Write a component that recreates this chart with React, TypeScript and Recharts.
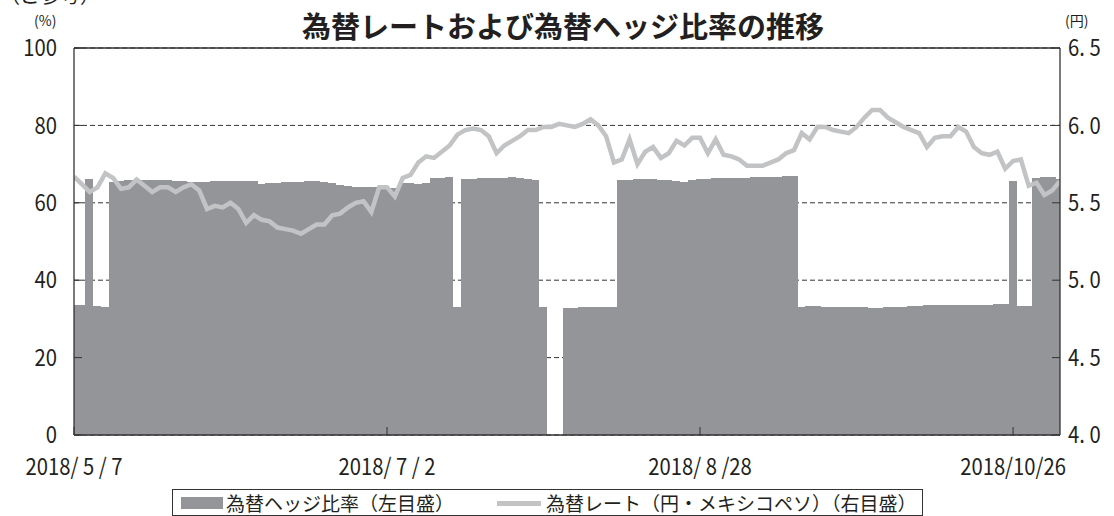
import React from "react";
import {
  ComposedChart,
  Bar,
  Line,
  XAxis,
  YAxis,
  CartesianGrid,
  ReferenceLine,
} from "recharts";

// 為替ヘッジ比率 (%), one value per business day from 2018/5/7
const hedgeRatio = [
  33.6, 33.7, 66.1, 33.3, 33.2, 65.5, 65.7, 65.8, 65.9, 65.9,
  65.9, 65.8, 65.8, 65.7, 65.6, 65.5, 65.5, 65.5, 65.6, 65.6,
  65.6, 65.6, 65.7, 65.7, 64.9, 65.0, 65.2, 65.3, 65.4, 65.5,
  65.6, 65.6, 65.4, 65.0, 64.6, 64.3, 64.2, 64.1, 64.0, 64.0,
  63.9, 63.9, 65.0, 65.0, 64.9, 65.0, 66.5, 66.5, 66.6, 33.0,
  66.1, 66.2, 66.3, 66.3, 66.4, 66.5, 66.6, 66.3, 66.1, 65.9,
  33.0, 0, 0, 32.8, 32.9, 33.0, 33.1, 33.1, 33.2, 33.2,
  65.9, 66.0, 66.1, 66.1, 66.1, 66.0, 65.9, 65.6, 65.5, 66.0,
  66.1, 66.2, 66.3, 66.3, 66.4, 66.4, 66.5, 66.6, 66.6, 66.7,
  66.7, 66.8, 66.9, 33.2, 33.3, 33.3, 33.2, 33.2, 33.1, 33.0,
  33.0, 33.0, 32.9, 32.9, 33.0, 33.1, 33.2, 33.3, 33.4, 33.5,
  33.5, 33.5, 33.5, 33.5, 33.5, 33.6, 33.6, 33.7, 33.8, 33.9,
  65.6, 33.3, 33.3, 66.3, 66.7, 66.6, 66.1,
];

// 為替レート (円・メキシコペソ)
const fxRate = [
  5.67, 5.62, 5.57, 5.60, 5.69, 5.66, 5.59, 5.60, 5.65, 5.61,
  5.57, 5.60, 5.60, 5.57, 5.60, 5.62, 5.58, 5.46, 5.48, 5.47,
  5.50, 5.46, 5.37, 5.42, 5.39, 5.38, 5.34, 5.33, 5.32, 5.30,
  5.33, 5.36, 5.36, 5.42, 5.43, 5.47, 5.50, 5.51, 5.44, 5.60,
  5.60, 5.54, 5.66, 5.68, 5.76, 5.80, 5.79, 5.83, 5.87, 5.94,
  5.97, 5.98, 5.97, 5.93, 5.82, 5.87, 5.90, 5.93, 5.97, 5.97,
  5.99, 5.99, 6.01, 6.00, 5.99, 6.01, 6.04, 6.00, 5.93, 5.76,
  5.78, 5.91, 5.75, 5.83, 5.86, 5.79, 5.82, 5.90, 5.87, 5.92,
  5.92, 5.82, 5.91, 5.81, 5.80, 5.78, 5.74, 5.74, 5.74, 5.76,
  5.78, 5.82, 5.84, 5.95, 5.91, 5.99, 5.99, 5.97, 5.96, 5.95,
  5.99, 6.05, 6.10, 6.10, 6.05, 6.02, 5.99, 5.97, 5.95, 5.86,
  5.92, 5.93, 5.93, 5.99, 5.96, 5.86, 5.82, 5.81, 5.83, 5.72,
  5.77, 5.78, 5.61, 5.63, 5.55, 5.58, 5.64,
];

const xTickIdx = [0, 40, 80, 120];
const xTickLabels = ["2018/ 5 / 7", "2018/ 7 / 2", "2018/ 8 /28", "2018/10/26"];
const leftTicks = [0, 20, 40, 60, 80, 100];
const rightTicks = [4.0, 4.5, 5.0, 5.5, 6.0, 6.5];

const rows = hedgeRatio.map((h, i) => ({ i, hedge: h, rate: fxRate[i] }));

const JP = '"Noto Sans CJK JP", "Noto Sans", sans-serif';
const INK = "#231f20";
const AXIS = "#333";
const BAR = "#939598";
const LINE = "#c2c3c5";

// condensed-looking tick text (original uses a narrow gothic face)
function NarrowTick(props: any) {
  const { x, y, payload, textAnchor, fmt } = props;
  return (
    <g transform={`translate(${x},${y}) scale(0.88,1)`}>
      <text x={0} y={0} dy="0.36em" textAnchor={textAnchor} fill={INK} fontSize={23} fontFamily={JP}>
        {fmt(payload.value)}
      </text>
    </g>
  );
}

// bars touch each other; widen a hair and snap to pixels so no seams show
function SolidBar(props: any) {
  const { x, y, width, height } = props;
  if (!height || height <= 0) return null;
  return (
    <rect x={x - 0.5} y={y} width={width + 1} height={height} fill={BAR} shapeRendering="crispEdges" />
  );
}

const fmtLeft = (v: number) => String(v);
const fmtRight = (v: number) => v.toFixed(1).replace(".", ". ");
const fmtX = (v: number) => xTickLabels[xTickIdx.indexOf(v)] ?? "";

export default function App() {
  return (
    <div
      style={{
        position: "absolute",
        left: 0,
        top: 0,
        width: 1114,
        height: 516,
        background: "#fff",
        overflow: "hidden",
        fontFamily: JP,
        color: INK,
      }}
    >
      <ComposedChart
        width={1114}
        height={516}
        data={rows}
        margin={{ top: 48, right: 0, bottom: 41, left: 0 }}
        barCategoryGap={0}
        barGap={0}
      >
        <CartesianGrid vertical={false} stroke={AXIS} strokeDasharray="5 3" />
        <XAxis
          dataKey="i"
          type="number"
          domain={[0, 126]}
          allowDataOverflow
          ticks={xTickIdx}
          interval={0}
          height={40}
          tickSize={-8}
          tickMargin={40}
          axisLine={{ stroke: AXIS, strokeWidth: 1.3 }}
          tickLine={{ stroke: AXIS }}
          tick={<NarrowTick fmt={fmtX} />}
        />
        <YAxis
          domain={[0, 100]}
          ticks={leftTicks}
          interval={0}
          width={74}
          tickSize={-8}
          tickMargin={25}
          axisLine={{ stroke: AXIS, strokeWidth: 1.3 }}
          tickLine={{ stroke: AXIS }}
          tick={<NarrowTick fmt={fmtLeft} />}
        />
        <YAxis
          yAxisId="r"
          orientation="right"
          domain={[4, 6.5]}
          ticks={rightTicks}
          interval={0}
          width={54}
          tickSize={-8}
          tickMargin={16}
          axisLine={{ stroke: AXIS, strokeWidth: 1.3 }}
          tickLine={{ stroke: AXIS }}
          tick={<NarrowTick fmt={fmtRight} />}
        />
        <Bar
          dataKey="hedge"
          fill={BAR}
          barSize={8}
          shape={<SolidBar />}
          isAnimationActive={false}
        />
        <Line
          yAxisId="r"
          type="linear"
          dataKey="rate"
          stroke={LINE}
          strokeWidth={4.5}
          dot={false}
          activeDot={false}
          isAnimationActive={false}
        />
        <ReferenceLine y={100} stroke={AXIS} strokeWidth={1.3} />
      </ComposedChart>

      <div style={{ position: "absolute", left: 0, top: -15, fontSize: 20, lineHeight: "20px", whiteSpace: "nowrap" }}>
        （ご参考）
      </div>
      <div style={{ position: "absolute", left: 34, top: 13, fontSize: 14, lineHeight: "14px" }}>(%)</div>
      <div style={{ position: "absolute", left: 1065, top: 13, fontSize: 14, lineHeight: "14px" }}>(円)</div>
      <div
        style={{
          position: "absolute",
          left: 302,
          top: 11,
          fontSize: 29,
          lineHeight: "29px",
          fontWeight: 700,
          whiteSpace: "nowrap",
        }}
      >
        為替レートおよび為替ヘッジ比率の推移
      </div>

      {/* legend */}
      <div
        style={{
          position: "absolute",
          left: 172,
          top: 489,
          width: 749,
          height: 25,
          border: `1px solid ${AXIS}`,
          fontSize: 19,
          lineHeight: "19px",
          whiteSpace: "nowrap",
        }}
      >
        <span style={{ position: "absolute", left: 8, top: 7, width: 42, height: 12, background: BAR }} />
        <span style={{ position: "absolute", left: 53, top: 3 }}>為替ヘッジ比率（左目盛）</span>
        <span style={{ position: "absolute", left: 324, top: 11, width: 44, height: 5, background: LINE }} />
        <span style={{ position: "absolute", left: 373, top: 3 }}>為替レート（円・メキシコペソ）（右目盛）</span>
      </div>
    </div>
  );
}
